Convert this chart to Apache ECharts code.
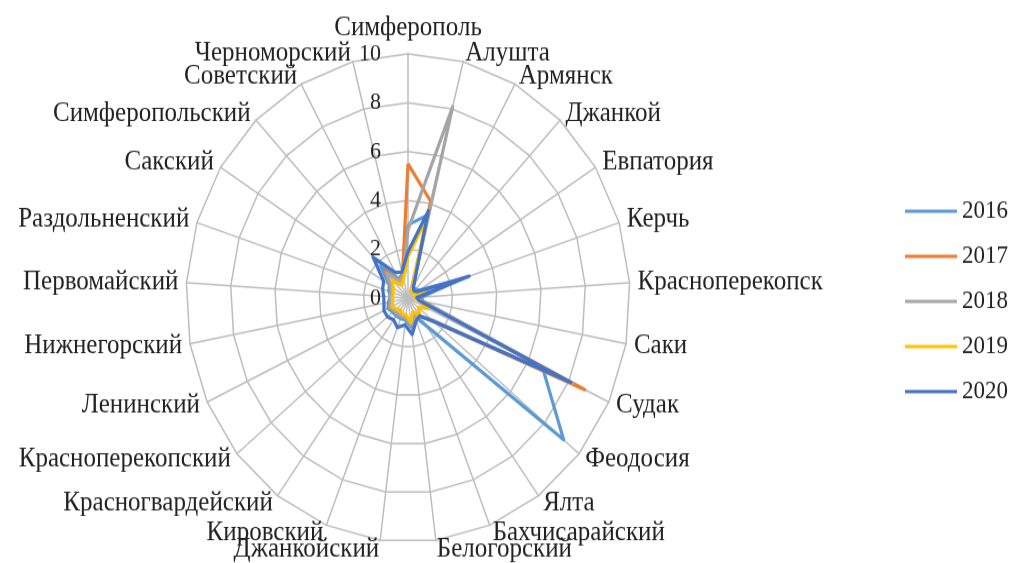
<!DOCTYPE html>
<html><head><meta charset="utf-8">
<script src="https://cdn.jsdelivr.net/npm/echarts@6/dist/echarts.min.js"></script>
<style>html,body{margin:0;padding:0;background:#fff;overflow:hidden}
#wrap{width:1011px;height:563px;overflow:hidden;position:relative}
#c{width:1011px;height:512px;transform:scaleY(1.1);transform-origin:0 0}</style>
</head><body><div id="wrap"><div id="c"></div></div>
<script>
const categories = ['Симферополь','Алушта','Армянск','Джанкой','Евпатория','Керчь','Красноперекопск','Саки','Судак','Феодосия','Ялта','Бахчисарайский','Белогорский','Джанкойский','Кировский','Красногвардейский','Красноперекопский','Ленинский','Нижнегорский','Первомайский','Раздольненский','Сакский','Симферопольский','Советский','Черноморский'];
const years = ['2016','2017','2018','2019','2020'];
const v2016 = [3.0, 3.5, 0.5, 0.5, 0.6, 2.4, 0.6, 0.7, 6.7, 9.1, 1.4, 0.8, 1.2, 0.9, 0.9, 0.9, 0.9, 1.0, 0.9, 0.8, 0.9, 1.0, 1.8, 0.9, 1.0];
const v2017 = [5.5, 4.1, 0.4, 0.4, 0.5, 0.8, 0.4, 0.6, 8.8, 1.5, 0.9, 0.8, 1.1, 0.8, 0.8, 0.8, 0.8, 0.9, 0.8, 0.8, 0.8, 0.9, 1.5, 0.8, 1.0];
const v2018 = [2.8, 8.1, 0.4, 0.4, 0.5, 0.9, 0.4, 0.6, 8.2, 1.4, 0.9, 0.8, 1.1, 0.8, 0.8, 0.8, 0.8, 0.9, 0.8, 0.8, 0.8, 0.9, 1.4, 0.8, 0.9];
const v2019 = [1.7, 3.4, 0.3, 0.3, 0.4, 0.8, 0.3, 0.5, 1.0, 0.6, 0.9, 0.6, 1.0, 0.7, 0.7, 0.6, 0.7, 0.8, 0.7, 0.7, 0.7, 0.8, 1.0, 0.6, 0.8];
const v2020 = [1.9, 3.7, 0.5, 0.4, 0.5, 2.9, 0.4, 0.5, 8.1, 1.5, 0.9, 1.0, 1.5, 1.1, 1.3, 1.1, 1.2, 1.2, 1.1, 1.1, 1.2, 1.3, 2.3, 1.2, 1.1];
const tickLabels = ['0','2','4','6','8','10'];
const seriesValues = [v2016, v2017, v2018, v2019, v2020];
const colors = ['#5B9BD5','#ED7D31','#A5A5A5','#FFC000','#4472C4'];

// ECharts places indicators counter-clockwise; reorder so the result runs clockwise
const order = [0];
for (let i = categories.length - 1; i >= 1; i--) order.push(i);

const indicator = order.map((i, k) => {
  const o = { name: categories[i], min: 0, max: 10 };
  if (k === 0) {
    o.axisLabel = {
      show: true, color: '#222', fontSize: 22, fontFamily: 'Liberation Serif', margin: 27,
      formatter: v => tickLabels[Math.round(v / 2)] ?? ''
    };
  }
  return o;
});

const chart = echarts.init(document.getElementById('c'));
chart.setOption({
  animation: false,
  color: colors,
  legend: {
    orient: 'vertical', left: 900, top: 175,
    itemWidth: 52, itemHeight: 3, itemGap: 17, icon: 'rect',
    textStyle: { color: '#222', fontSize: 23, fontFamily: 'Liberation Serif', lineHeight: 24 },
    data: years
  },
  radar: {
    center: [408, 271], radius: 222, startAngle: 90,
    shape: 'polygon', splitNumber: 5,
    nameGap: 8,
    axisName: { color: '#222', fontSize: 25, fontFamily: 'Liberation Serif' },
    splitLine: { lineStyle: { color: '#bdbdbd', width: 1.5 } },
    splitArea: { show: false },
    axisLine: { lineStyle: { color: '#bdbdbd', width: 1.5 } },
    axisTick: { show: false },
    axisLabel: { show: false },
    indicator: indicator
  },
  series: [{
    type: 'radar',
    symbol: 'none',
    data: seriesValues.map((arr, s) => ({
      name: years[s],
      value: order.map(i => arr[i]),
      lineStyle: { color: colors[s], width: 3.2 },
      itemStyle: { color: colors[s] }
    }))
  }]
});
</script></body></html>
